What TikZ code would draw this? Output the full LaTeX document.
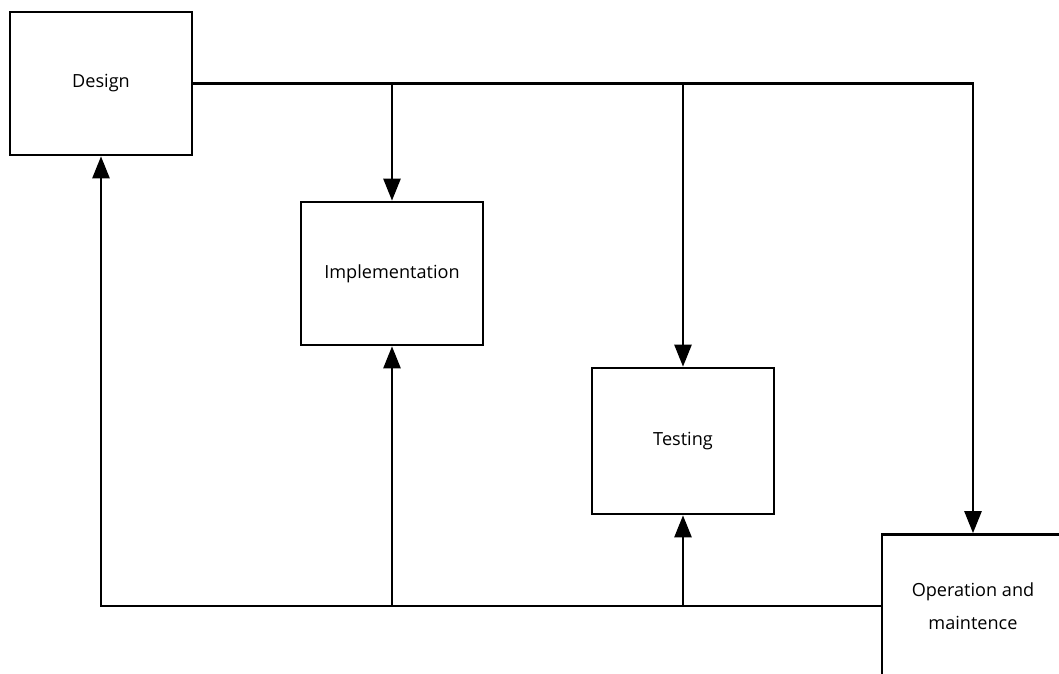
\documentclass[tikz,border=0pt]{standalone}
\usepackage{fontspec}
\setmainfont{Open Sans}
\usetikzlibrary{arrows.meta}

\begin{document}
\begin{tikzpicture}[font=\fontsize{10.3}{18.5}\selectfont, line width=1.4pt,
    phase/.style={draw, line width=1.5pt, minimum width=3.64cm, minimum height=2.86cm, align=center, inner sep=0pt},
    flow/.style={-{Triangle[length=0.44cm, width=0.34cm]}}]
        \useasboundingbox (0,0) rectangle (21.18,-13.48);

        \node[phase](design) at (2.02, -1.67) {Design};
        \node[phase](impl) at (7.84, -5.47) {Implementation};
        \node[phase, minimum height=2.92cm](test) at (13.66, -8.82) {Testing};
        \node[phase](ops) at (19.46, -12.12) {Operation and\\maintence};

        % forward flow
        \draw[flow] (design.east) -| (ops.north);
        \draw[flow] (impl.north |- design.east) -- (impl.north);
        \draw[flow] (test.north |- design.east) -- (test.north);

        % feedback
        \draw[flow] (ops.west) -| (design.south);
        \draw[flow] (impl.south |- ops.west) -- (impl.south);
        \draw[flow] (test.south |- ops.west) -- (test.south);
\end{tikzpicture}
\end{document}
